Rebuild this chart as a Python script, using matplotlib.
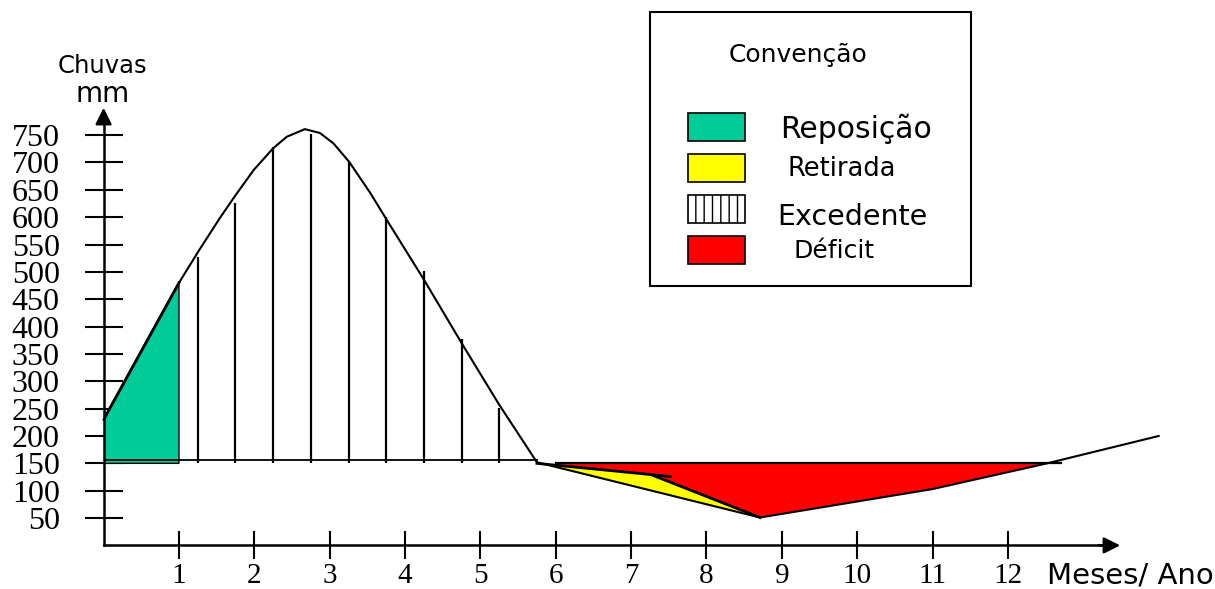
import matplotlib
matplotlib.use("Agg")
import matplotlib.pyplot as plt
from matplotlib.patches import Rectangle, Polygon

# ---------------- data ----------------
# precipitation curve (months, mm)
rain_month = [0, 1, 1.26, 1.55, 1.75, 1.99, 2.25, 2.43, 2.67, 2.87, 3.05, 3.26,
              3.54, 3.78, 4.25, 4.75, 5.25, 5.75, 8.71, 11, 12.52, 14.0]
rain_mm = [230, 480, 538, 600, 640, 686, 726, 747, 761, 754, 735, 701,
           644, 590, 486, 370, 257, 152, 51, 103, 150, 200]

# storage baseline (wet season)
base_month = [0, 5.75]
base_mm = [157, 157]

# reposição (green) area
repo_month = [0, 0, 1, 1]
repo_mm = [150, 230, 480, 150]

# excedente vertical hatch lines
exc_month = [1.25, 1.75, 2.25, 2.75, 3.25, 3.75, 4.25, 4.75, 5.25]
exc_top = [528, 626, 728, 752, 701, 601, 501, 378, 251]
exc_bottom = 150

# retirada (yellow) area
ret_month = [5.75, 7.29, 8.71]
ret_mm = [150, 128, 51]

# upper edge of retirada
edge_month = [5.75, 7.52]
edge_mm = [150, 126]
edge2_month = [7.29, 8.71]
edge2_mm = [128, 51]

# déficit (red) area
def_month = [6.0, 12.7, 12.52, 11, 8.71, 7.29, 6.0]
def_mm = [150, 150, 150, 103, 51, 128, 146]
def_top_month = [6.0, 12.7]
def_top_mm = [150, 150]

x_ticks = list(range(1, 13))
y_ticks = list(range(50, 751, 50))

legend_labels = ["Reposição", "Retirada", "Excedente", "Déficit"]
legend_colors = ["#00CC99", "#FFFF00", "white", "#FF0000"]
legend_hatch = [None, None, "||", None]

GREEN, YELLOW, RED = "#00CC99", "#FFFF00", "#FF0000"

# ---------------- figure ----------------
W, H = 1215, 589
fig = plt.figure(figsize=(W / 100, H / 100), dpi=100)
x0, xs = 103.6, 75.36
y0, ys = 545.4, 0.547
ax = fig.add_axes([x0 / W, (H - y0) / H, (W - x0) / W, y0 / H])
ax.set_xlim(0, (W - x0) / xs)
ax.set_ylim(0, y0 / ys)

for s in ["top", "right"]:
    ax.spines[s].set_visible(False)
ax.spines["left"].set_bounds(0, 785)
ax.spines["bottom"].set_bounds(0, 13.4)
ax.spines["left"].set_linewidth(1.8)
ax.spines["bottom"].set_linewidth(1.8)

arrow_kw = dict(arrowstyle="-|>,head_length=0.7,head_width=0.35",
                color="black", lw=1.8, mutation_scale=14,
                shrinkA=0, shrinkB=0)
ax.annotate("", xy=(0, 800), xytext=(0, 770), arrowprops=arrow_kw,
            annotation_clip=False)
ax.annotate("", xy=(13.49, 0), xytext=(13.2, 0), arrowprops=arrow_kw,
            annotation_clip=False)

ax.set_xticks(x_ticks)
ax.set_xticklabels([str(v) for v in x_ticks])
ax.set_yticks(y_ticks)
ax.set_yticklabels([str(v) for v in y_ticks])
ax.tick_params(axis="y", direction="inout", length=27, width=1.5, pad=18,
               labelsize=23)
ax.tick_params(axis="x", direction="inout", length=20, width=1.5, pad=3,
               labelsize=21)
for lab in ax.get_xticklabels() + ax.get_yticklabels():
    lab.set_fontfamily("Liberation Serif")

# areas
ax.add_patch(Polygon(list(zip(repo_month, repo_mm)), closed=True,
                     facecolor=GREEN, edgecolor="black", lw=1.0, zorder=2))
ax.add_patch(Polygon(list(zip(def_month, def_mm)), closed=True,
                     facecolor=RED, edgecolor="none", zorder=2))
ax.add_patch(Polygon(list(zip(ret_month, ret_mm)), closed=True,
                     facecolor=YELLOW, edgecolor="none", zorder=3))

# excedente lines
ax.vlines(exc_month, exc_bottom, exc_top, colors="black", lw=1.6, zorder=3)

# lines
ax.plot(base_month, base_mm, color="black", lw=1.3, zorder=4)
ax.plot(rain_month, rain_mm, color="black", lw=1.5, zorder=5, clip_on=False,
        solid_joinstyle="round")
ax.plot(repo_month[1:3], repo_mm[1:3], color="black", lw=2.0, zorder=5)
ax.plot(edge_month, edge_mm, color="black", lw=2.0, zorder=5)
ax.plot(edge2_month, edge2_mm, color="black", lw=2.0, zorder=5)
ax.plot(def_top_month, def_top_mm, color="black", lw=1.6, zorder=4)

# axis labels
ff = "DejaVu Sans"
def P(x, y):
    return (x / W, 1 - y / H)

fig.text(*P(58, 73), "Chuvas", fontsize=17.5, family=ff, va="baseline", ha="left")
fig.text(*P(76, 102), "mm", fontsize=20, family=ff, va="baseline", ha="left")
fig.text(*P(1047, 584), "Meses/ Ano", fontsize=21, family=ff, va="baseline",
         ha="left")

# legend box
fig.patches.append(Rectangle(P(650, 286), 321 / W, 274 / H,
                             transform=fig.transFigure, facecolor="white",
                             edgecolor="black", lw=1.5, zorder=1))
fig.text(*P(798, 62), "Convenção", fontsize=18, family=ff, va="baseline",
         ha="center")
row_top = [113, 154, 195, 236]
text_x = [780, 788, 777, 793]
text_base = [138, 176, 225, 258]
text_size = [21.5, 18.5, 20.5, 18]
for lab, col, hat, ty, tx, tb, tsz in zip(legend_labels, legend_colors,
                                          legend_hatch, row_top, text_x,
                                          text_base, text_size):
    fig.patches.append(Rectangle(P(688, ty + 28), 57 / W, 28 / H,
                                 transform=fig.transFigure, facecolor=col,
                                 edgecolor="black", lw=1.2, hatch=hat,
                                 zorder=2))
    fig.text(*P(tx, tb), lab, fontsize=tsz, family=ff, va="baseline",
             ha="left")

fig.savefig("out.png", dpi=100)
